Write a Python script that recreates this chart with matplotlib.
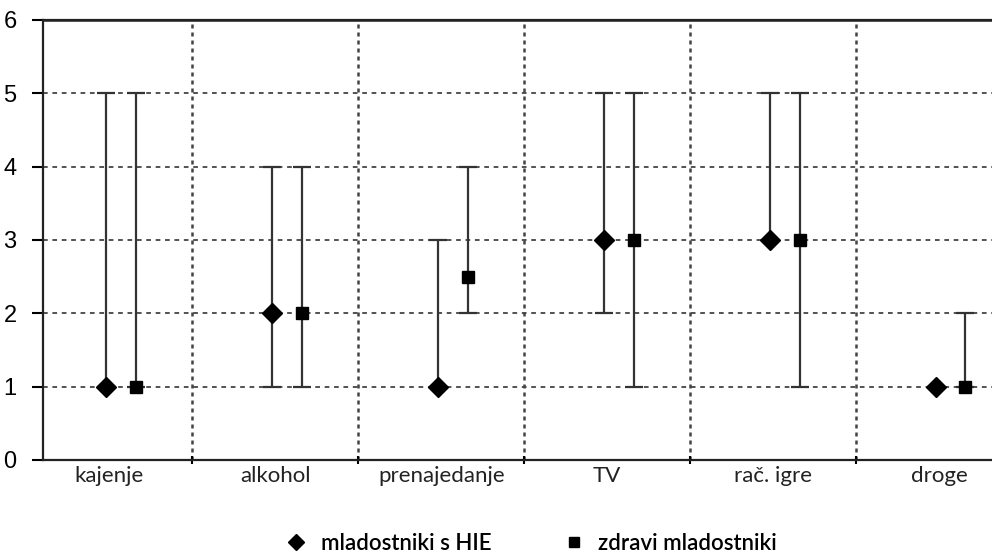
import numpy as np
import matplotlib
matplotlib.use("Agg")
import matplotlib.pyplot as plt
from matplotlib.lines import Line2D

categories = ["kajenje", "alkohol", "prenajedanje", "TV", "rač. igre", "droge"]
hie_val = [1, 2, 1, 3, 3, 1]
hie_min = [1, 1, 1, 2, 3, 1]
hie_max = [5, 4, 3, 5, 5, 1]
zdr_val = [1, 2, 2.5, 3, 3, 1]
zdr_min = [1, 1, 2, 1, 1, 1]
zdr_max = [5, 4, 4, 5, 5, 2]
series_labels = ["mladostniki s HIE", "zdravi mladostniki"]
y_ticks = [0, 1, 2, 3, 4, 5, 6]

W, H = 992, 553
fig = plt.figure(figsize=(W / 100, H / 100), dpi=100)
ax = fig.add_axes([43 / W, (553 - 460) / H, 954 / W, 440 / H])

x = np.arange(len(categories)) + 0.5
off_h, off_z = -0.02, 0.16

def yerr(v, lo, hi):
    v, lo, hi = map(np.asarray, (v, lo, hi))
    return np.vstack([v - lo, hi - v])

ecol = "#333333"
ax.errorbar(x + off_h, hie_val, yerr=yerr(hie_val, hie_min, hie_max), fmt="D",
            color="black", ms=10, ecolor=ecol, elinewidth=1.6, capsize=6.5,
            capthick=1.6, zorder=5)
ax.errorbar(x + off_z, zdr_val, yerr=yerr(zdr_val, zdr_min, zdr_max), fmt="s",
            color="black", ms=9, ecolor=ecol, elinewidth=1.6, capsize=6.5,
            capthick=1.6, zorder=5)

ax.set_xlim(0.1, 5.85)
ax.set_ylim(0, 6)

# horizontal dashed grid
for yv in y_ticks[1:-1]:
    ax.axhline(yv, color="#444444", lw=1.3, ls=(0, (2.6, 2.6)), zorder=1)
# vertical dotted category separators
for xv in range(1, len(categories)):
    ax.axvline(xv, color="#444444", lw=1.8, ls=(0, (1.6, 1.6)), zorder=1)
# solid top line at the maximum
ax.axhline(y_ticks[-1], color="#222222", lw=1.8, clip_on=False, zorder=3)

ax.spines["right"].set_visible(False)
for s in ["left", "bottom", "top"]:
    ax.spines[s].set_linewidth(1.6)
    ax.spines[s].set_color("#222222")

ax.set_yticks(y_ticks)
ax.set_yticklabels([str(v) for v in y_ticks], fontsize=17, family="Liberation Sans")
ax.tick_params(axis="y", direction="out", length=8, width=1.5, pad=11)

ax.set_xticks(x)
ax.set_xticklabels(categories, fontsize=16, family="Lato", color="#222222")
ax.set_xticks(np.arange(1, len(categories)), minor=True)
ax.tick_params(axis="x", which="major", length=0, pad=4)
ax.tick_params(axis="x", which="minor", direction="inout", length=6, width=1.5)

handles = [
    Line2D([], [], marker="D", color="black", ls="none", ms=8),
    Line2D([], [], marker="s", color="black", ls="none", ms=7),
]
leg = fig.legend(handles, series_labels, loc="center", bbox_to_anchor=(531 / W, 1 - 543 / H),
                 ncol=2, frameon=False, handlelength=1.0, handletextpad=0.6,
                 columnspacing=3.2, prop={"family": "Lato", "size": 16, "weight": "semibold"})

fig.savefig("out.png", dpi=100)
